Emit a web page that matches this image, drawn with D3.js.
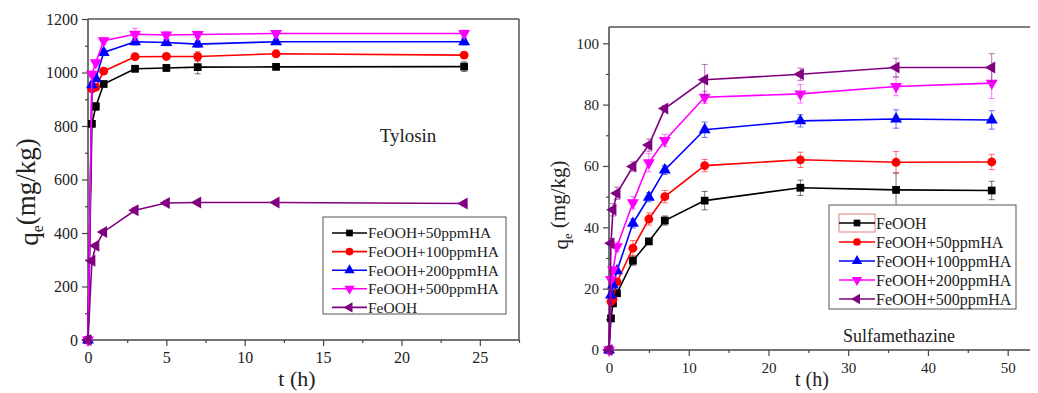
<!DOCTYPE html>
<html>
<head>
<meta charset="utf-8">
<script src="https://cdn.jsdelivr.net/npm/d3@7"></script>
<style>
  body { margin: 0; background: #fff; }
  svg text { font-family: "Liberation Serif", "Times New Roman", Times, "DejaVu Serif", serif !important; }
</style>
</head>
<body>
<div id="chart"></div>
<script>
// Tylosin panel
let tylTime = [0, 0.25, 0.5, 1, 3, 5, 7, 12, 24];
let tyl50 = [0, 808, 873, 957, 1014, 1017, 1020, 1021, 1022];
let tyl100 = [0, 939, 945, 1005, 1059, 1060, 1060, 1070, 1065];
let tyl200 = [0, 954, 977, 1075, 1115, 1112, 1106, 1115, 1115];
let tyl500 = [0, 994, 1037, 1119, 1143, 1140, 1142, 1146, 1146];
let tylFe = [0, 296, 352, 404, 485, 512, 514, 514, 510];
let tylErr50 = [0, 8, 15, 10, 12, 12, 25, 10, 18];
let tylErr100 = [0, 10, 10, 10, 10, 10, 18, 10, 10];
let tylErr200 = [0, 10, 10, 12, 12, 12, 12, 10, 12];
let tylErr500 = [0, 10, 10, 12, 22, 12, 12, 10, 12];
let tylErrFe = [0, 8, 8, 8, 10, 8, 8, 6, 8];
let tylNames = ["FeOOH+50ppmHA", "FeOOH+100ppmHA", "FeOOH+200ppmHA", "FeOOH+500ppmHA", "FeOOH"];
let tylXTicks = [0, 5, 10, 15, 20, 25];
let tylYTicks = [0, 200, 400, 600, 800, 1000, 1200];

// Sulfamethazine panel
let sulTime = [0, 0.25, 0.5, 1, 3, 5, 7, 12, 24, 36, 48];
let sulFe = [0, 10.3, 15.2, 18.5, 29.1, 35.4, 42.2, 48.7, 52.9, 52.2, 52.0];
let sul50 = [0, 15.8, 16.5, 22.2, 33.2, 42.7, 50.0, 60.1, 62.0, 61.2, 61.3];
let sul100 = [0, 17.9, 21.2, 25.8, 41.3, 49.8, 58.7, 71.8, 74.7, 75.3, 75.0];
let sul200 = [0, 23.0, 26.1, 33.7, 48.0, 61.1, 68.3, 82.4, 83.5, 85.9, 87.0];
let sul500 = [0, 34.8, 45.7, 51.1, 59.8, 66.8, 78.7, 88.1, 89.9, 92.1, 92.1];
let sulErrFe = [0, 1, 1, 1, 1.5, 1, 1.5, 3, 2.5, 5.5, 3];
let sulErr50 = [0, 1, 1, 1, 2.5, 2, 2, 2, 2.5, 3.5, 2.5];
let sulErr100 = [0, 1, 1, 1, 1.5, 1.5, 1.5, 2.5, 2, 3, 3];
let sulErr200 = [0, 1, 1, 1.5, 2, 3, 2, 2, 3, 3, 5];
let sulErr500 = [0, 1.5, 2, 2, 1.5, 2, 1, 5, 2, 3, 4.5];
let sulNames = ["FeOOH", "FeOOH+50ppmHA", "FeOOH+100ppmHA", "FeOOH+200ppmHA", "FeOOH+500ppmHA"];
let sulXTicks = [0, 10, 20, 30, 40, 50];
let sulYTicks = [0, 20, 40, 60, 80, 100];

let colors = ["#000000", "#ff0000", "#0000ff", "#ff00ff", "#800080"];
let serif = "'Liberation Serif', 'Times New Roman', Times, 'DejaVu Serif', serif";
// marker shapes: square, circle, triangle up, triangle down, triangle left
let shapes = [
  {type: d3.symbolSquare, rot: 0, size: 60},
  {type: d3.symbolCircle, rot: 0, size: 62},
  {type: d3.symbolTriangle, rot: 0, size: 62},
  {type: d3.symbolTriangle, rot: 180, size: 62},
  {type: d3.symbolTriangle, rot: -90, size: 62}
];

let svg = d3.select("#chart").append("svg")
  .attr("width", 1038).attr("height", 393)
  .attr("font-family", serif);

function drawPanel(cfg) {
  let x = d3.scaleLinear().domain(cfg.xDomain).range([cfg.left, cfg.right]);
  let y = d3.scaleLinear().domain(cfg.yDomain).range([cfg.bottom, cfg.top]);
  let g = svg.append("g");

  // frame
  g.append("line").attr("x1", cfg.left).attr("x2", cfg.right)
    .attr("y1", cfg.top).attr("y2", cfg.top)
    .attr("stroke", "#555").attr("stroke-width", 1.5);
  if (cfg.rightSpine) {
    g.append("line").attr("x1", cfg.right).attr("x2", cfg.right)
      .attr("y1", cfg.top).attr("y2", cfg.bottom)
      .attr("stroke", "#555").attr("stroke-width", 1.5);
  }

  let xAxis = d3.axisBottom(x).tickValues(cfg.xTicks).tickSize(6).tickPadding(6)
    .tickFormat(d3.format("d"));
  let yAxis = d3.axisLeft(y).tickValues(cfg.yTicks).tickSize(6).tickPadding(4)
    .tickFormat(d3.format("d"));
  // minor ticks
  let xMinor = d3.axisBottom(x).tickValues(cfg.xMinor).tickSize(3).tickFormat("");
  let yMinor = d3.axisLeft(y).tickValues(cfg.yMinor).tickSize(3).tickFormat("");

  g.append("g").attr("transform", "translate(0," + cfg.bottom + ")").call(xAxis);
  g.append("g").attr("transform", "translate(0," + cfg.bottom + ")").call(xMinor);
  g.append("g").attr("transform", "translate(" + cfg.left + ",0)").call(yAxis);
  g.append("g").attr("transform", "translate(" + cfg.left + ",0)").call(yMinor);
  g.selectAll(".domain").remove();
  g.append("line").attr("x1", cfg.left).attr("x2", cfg.right)
    .attr("y1", cfg.bottom).attr("y2", cfg.bottom)
    .attr("stroke", "#444").attr("stroke-width", 1.5);
  g.append("line").attr("x1", cfg.left).attr("x2", cfg.left)
    .attr("y1", cfg.top).attr("y2", cfg.bottom)
    .attr("stroke", "#444").attr("stroke-width", 1.5);
  g.selectAll(".tick line").attr("stroke", "#444").attr("stroke-width", 1.2);
  g.selectAll("g").attr("font-family", serif);
  g.selectAll(".tick text").attr("fill", "#222").style("font-size", cfg.tickFont + "px")
    .style("font-family", serif);

  // series
  cfg.series.forEach((vals, i) => {
    let pts = cfg.time.map((t, k) => ({t: t, v: vals[k], e: cfg.errors[i][k]}));
    let line = d3.line().x(d => x(d.t)).y(d => y(d.v));
    g.append("path").attr("d", line(pts)).attr("fill", "none")
      .attr("stroke", colors[i]).attr("stroke-width", 1.6);
    let eb = g.append("g").attr("stroke", colors[i]).attr("stroke-opacity", 0.55)
      .attr("stroke-width", 1);
    pts.filter(d => d.e > 0).forEach(d => {
      eb.append("line").attr("x1", x(d.t)).attr("x2", x(d.t))
        .attr("y1", y(d.v - d.e)).attr("y2", y(d.v + d.e));
      [d.v - d.e, d.v + d.e].forEach(w => {
        eb.append("line").attr("x1", x(d.t) - 3).attr("x2", x(d.t) + 3)
          .attr("y1", y(w)).attr("y2", y(w));
      });
    });
    let sh = shapes[i];
    g.append("g").selectAll("path").data(pts).join("path")
      .attr("d", d3.symbol().type(sh.type).size(sh.size))
      .attr("transform", d => "translate(" + x(d.t) + "," + y(d.v) + ") rotate(" + sh.rot + ")")
      .attr("fill", colors[i]);
  });

  // legend
  let lg = cfg.legend;
  g.append("rect").attr("x", lg.x).attr("y", lg.y).attr("width", lg.w).attr("height", lg.h)
    .attr("fill", "#fff").attr("stroke", "#555").attr("stroke-width", 1);
  if (lg.highlight) {
    g.append("rect").attr("x", lg.sx0).attr("y", lg.y0 - 9).attr("width", lg.sx1 - lg.sx0)
      .attr("height", 18).attr("fill", "none").attr("stroke", "#e08080").attr("stroke-width", 1);
  }
  cfg.names.forEach((name, i) => {
    let yy = lg.y0 + i * lg.step;
    g.append("line").attr("x1", lg.sx0).attr("x2", lg.sx1).attr("y1", yy).attr("y2", yy)
      .attr("stroke", colors[i]).attr("stroke-width", 1.6);
    let sh = shapes[i];
    g.append("path").attr("d", d3.symbol().type(sh.type).size(sh.size * 0.75))
      .attr("transform", "translate(" + ((lg.sx0 + lg.sx1) / 2) + "," + yy + ") rotate(" + sh.rot + ")")
      .attr("fill", colors[i]);
    g.append("text").attr("x", lg.sx1 + 1).attr("y", yy).attr("dy", "0.35em")
      .style("font-size", lg.font + "px").attr("fill", "#222").text(name);
  });

  // annotation
  g.append("text").attr("x", cfg.note.x).attr("y", cfg.note.y).attr("text-anchor", "middle")
    .style("font-size", cfg.note.font + "px").attr("fill", "#222").text(cfg.note.text);

  // axis titles
  g.append("text").attr("x", cfg.xTitle.x).attr("y", cfg.xTitle.y).attr("text-anchor", "middle")
    .style("font-size", cfg.xTitle.font + "px").attr("fill", "#222").text("t (h)");
  let yt = g.append("text")
    .attr("transform", "translate(" + cfg.yTitle.x + "," + cfg.yTitle.y + ") rotate(-90)")
    .attr("text-anchor", "middle").style("font-size", cfg.yTitle.font + "px").attr("fill", "#222");
  yt.append("tspan").text("q");
  yt.append("tspan").attr("dy", "0.3em").style("font-size", (cfg.yTitle.font * 0.6) + "px").text("e");
  yt.append("tspan").attr("dy", "-0.3em").text(cfg.yTitle.gap + "(mg/kg)");
}

drawPanel({
  left: 88, right: 519, top: 19, bottom: 340,
  xDomain: [0, 27.5], yDomain: [0, 1200],
  xTicks: tylXTicks, yTicks: tylYTicks,
  xMinor: [2.5, 7.5, 12.5, 17.5, 22.5, 27.5],
  yMinor: [100, 300, 500, 700, 900, 1100],
  rightSpine: true, tickFont: 16,
  time: tylTime,
  series: [tyl50, tyl100, tyl200, tyl500, tylFe],
  errors: [tylErr50, tylErr100, tylErr200, tylErr500, tylErrFe],
  names: tylNames,
  legend: {x: 323, y: 217, w: 183, h: 97, y0: 233, step: 18.6, sx0: 332, sx1: 367, font: 15.5},
  note: {x: 408, y: 142, font: 19, text: "Tylosin"},
  xTitle: {x: 297, y: 386, font: 22},
  yTitle: {x: 38, y: 192, font: 27, gap: ""}
});

drawPanel({
  left: 609, right: 1030, top: 27, bottom: 350,
  xDomain: [0, 52.8], yDomain: [0, 105.3],
  xTicks: sulXTicks, yTicks: sulYTicks,
  xMinor: [5, 15, 25, 35, 45],
  yMinor: [10, 30, 50, 70, 90],
  rightSpine: false, tickFont: 15,
  time: sulTime,
  series: [sulFe, sul50, sul100, sul200, sul500],
  errors: [sulErrFe, sulErr50, sulErr100, sulErr200, sulErr500],
  names: sulNames,
  legend: {x: 829, y: 205, w: 187, h: 104, y0: 223, step: 19, sx0: 839, sx1: 875, font: 16, highlight: true},
  note: {x: 899, y: 342, font: 18, text: "Sulfamethazine"},
  xTitle: {x: 812, y: 386, font: 20},
  yTitle: {x: 568, y: 205, font: 21, gap: " "}
});
</script>
</body>
</html>
